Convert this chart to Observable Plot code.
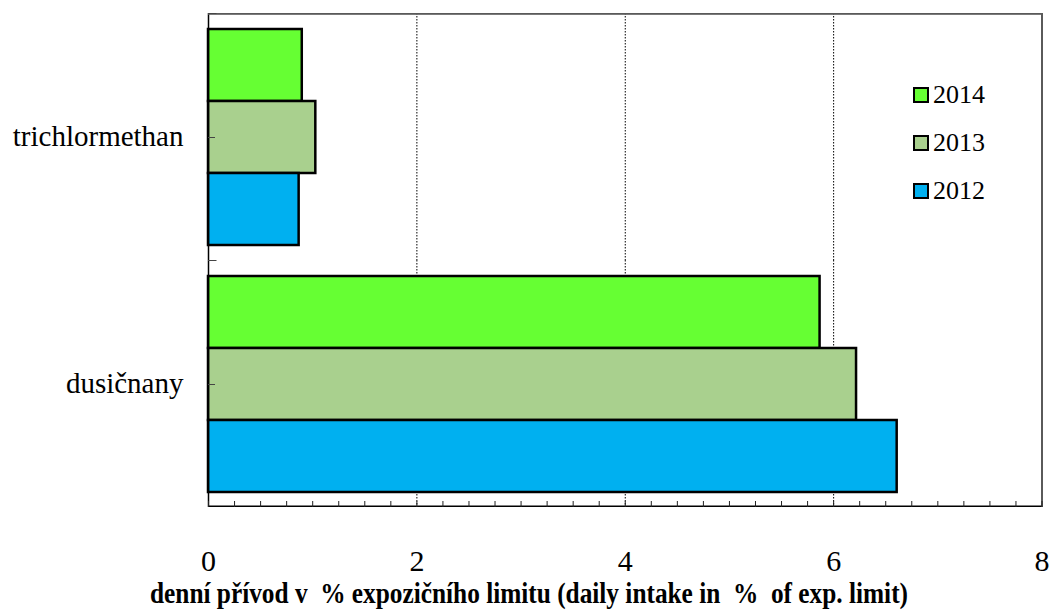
<!DOCTYPE html>
<html>
<head>
<meta charset="utf-8">
<script src="https://cdn.jsdelivr.net/npm/d3@7"></script>
<script src="https://cdn.jsdelivr.net/npm/@observablehq/plot@0.6"></script>
<style>
  html, body { margin: 0; padding: 0; background: #fff; }
  #chart { position: relative; width: 1049px; height: 611px; }
  #chart svg, #chart svg text { font-family: "Liberation Serif", "Times New Roman", serif !important; }
  #chart g[aria-label="fy-axis tick label"] text, #chart g[aria-label="fy-axis tick label"] { font-size: 29px !important; }
  #chart g[aria-label="x-axis tick label"] text, #chart g[aria-label="x-axis tick label"] { font-size: 30px !important; }
</style>
</head>
<body>
<div id="chart"></div>
<script>
const categories = ["trichlormethan", "dusičnany"];
const years = ["2014", "2013", "2012"];
const values2014 = [0.90, 5.87];
const values2013 = [1.03, 6.22];
const values2012 = [0.87, 6.61];
const colors = ["#66FF33", "#A9D08E", "#00B0F0"];
const xTicks = [0, 2, 4, 6, 8];
const gridTicks = [2, 4, 6];
const title = "denní přívod v\u00a0 % expozičního limitu (daily intake in\u00a0 %\u00a0 of exp. limit)";

const series = [values2014, values2013, values2012];
const rows = categories.flatMap((c, i) => years.map((y, j) => ({category: c, year: y, value: series[j][i]})));
const minorTicks = d3.range(0, 8.0001, 0.25);

const W = 1049, H = 611, mL = 208, mR = 7.5, mT = 13, mB = 104;
const facetH = (H - mT - mB) / categories.length;
const last = categories[categories.length - 1];
const first = categories[0];

const plot = Plot.plot({
  width: W, height: H,
  marginTop: mT, marginBottom: mB, marginLeft: mL, marginRight: mR,
  style: {fontFamily: "Liberation Serif, serif", fontSize: "24px", color: "#000", background: "#fff"},
  x: {domain: [0, 8], ticks: xTicks, tickSize: 0, tickPadding: 42, label: null, tickFormat: d => String(d)},
  y: {domain: years, axis: null, paddingInner: 0, paddingOuter: 0.196},
  fy: {domain: categories, padding: 0, axis: "left", label: null, tickSize: 0, tickPadding: 25},
  color: {domain: years, range: colors},
  marks: [
    Plot.ruleX(gridTicks, {stroke: "#000", strokeWidth: 1, strokeDasharray: "1.5,1.5"}),
    Plot.barX(rows, {x: "value", y: "year", fy: "category", fill: "year", stroke: "#000", strokeWidth: 2.5}),
    Plot.ruleX([8], {stroke: "#5a5a5a", strokeWidth: 2}),
    Plot.ruleX([0], {stroke: "#000", strokeWidth: 1.5}),
    Plot.rect([first], {x1: 0, x2: 8, fy: d => d, insetBottom: facetH - 1.8, fill: "#5a5a5a"}),
    Plot.rect([last], {x1: 0, x2: 8, fy: d => d, insetTop: facetH - 1.5, fill: "#000"}),
    Plot.ruleX(minorTicks, {x: d => d, fy: () => last, insetTop: facetH - 6, stroke: "#222", strokeWidth: 1}),
    Plot.tickY(categories, {y: () => years[1], fy: d => d, insetRight: (W - mL - mR) - 7, stroke: "#444", strokeWidth: 1}),
    Plot.rect(categories, {x1: 0, x2: 8, fy: d => d, insetBottom: facetH - 1, insetRight: (W - mL - mR) - 8.5, fill: "#444"})
  ]
});

const svg = d3.select(plot);
// legend
const lg = svg.append("g").attr("aria-label", "legend");
years.forEach((yr, i) => {
  const yy = 88 + i * 48;
  lg.append("rect").attr("x", 914).attr("y", yy).attr("width", 14).attr("height", 14)
    .attr("fill", colors[i]).attr("stroke", "#000").attr("stroke-width", 2);
  lg.append("text").attr("x", 933).attr("y", yy + 15).attr("text-anchor", "start")
    .attr("font-size", 26).attr("fill", "#000").text(yr);
});
// axis title
svg.append("text").attr("x", 529).attr("y", 603).attr("text-anchor", "middle")
  .attr("font-weight", "bold").attr("font-size", 29).attr("fill", "#000")
  .attr("textLength", 758).attr("lengthAdjust", "spacingAndGlyphs")
  .text(title);

document.getElementById("chart").appendChild(plot);
</script>
</body>
</html>
